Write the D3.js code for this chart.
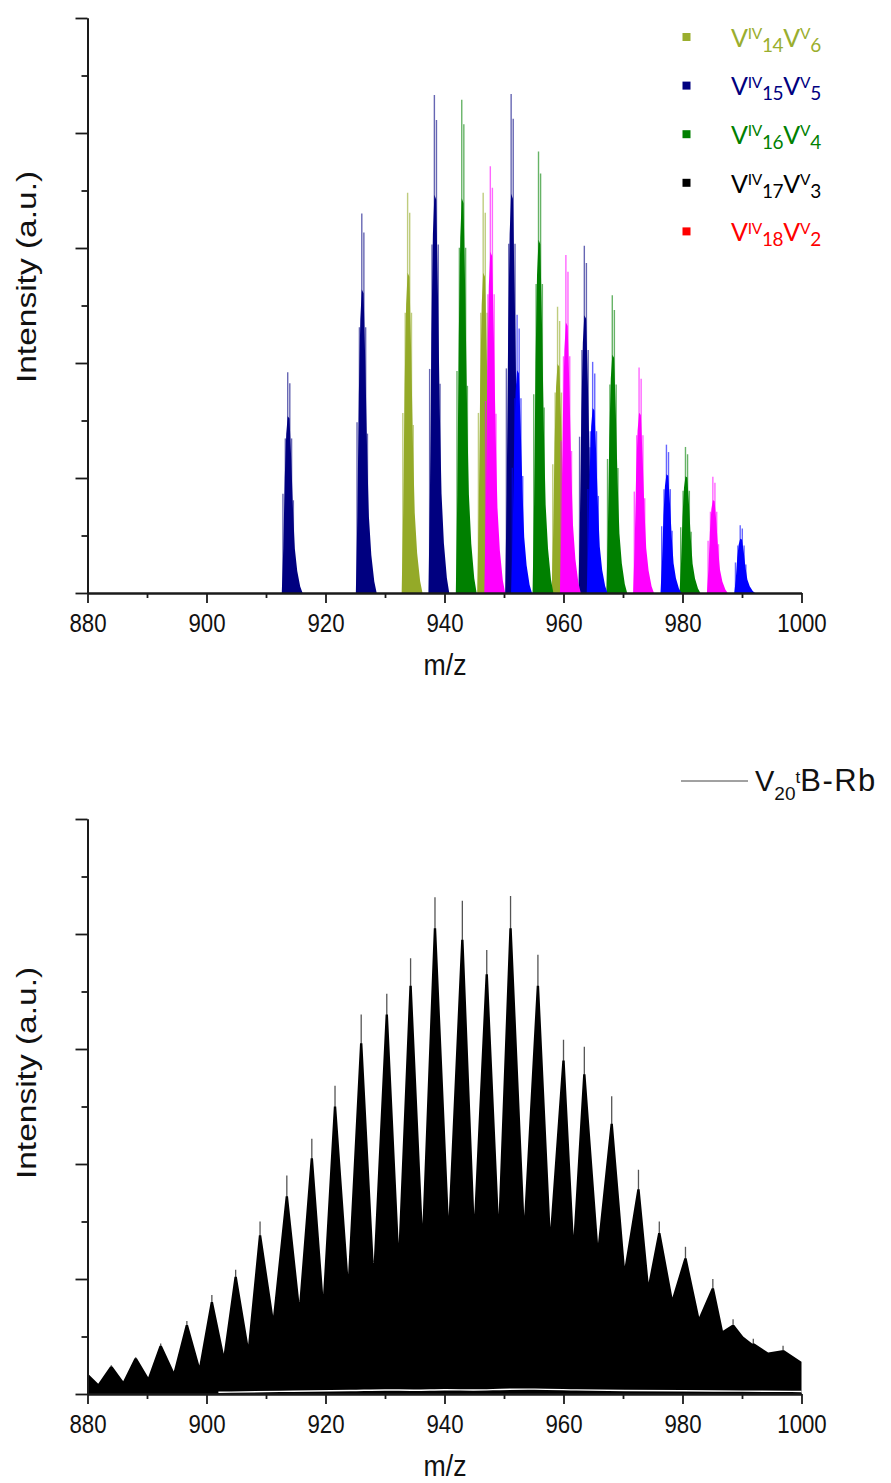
<!DOCTYPE html>
<html>
<head>
<meta charset="utf-8">
<script src="https://cdn.jsdelivr.net/npm/d3@7"></script>
<style>
  body { margin: 0; background: #fff; }
  svg { display: block; }
</style>
</head>
<body>
<svg id="fig" width="891" height="1483"></svg>
<script>
// ---------------- data ----------------
const xTickValues = [880, 900, 920, 940, 960, 980, 1000];
const xMinorValues = [890, 910, 930, 950, 970, 990];
const yTickValues = [0, 1, 2, 3, 4, 5];
const yMinorValues = [0.5, 1.5, 2.5, 3.5, 4.5];

// simulated mixed-valence species (upper panel)
const seriesSubIV = ["14", "15", "16", "17", "18"];
const seriesSubV = ["6", "5", "4", "3", "2"];
const legendColors = ["#9aae2e", "#000080", "#008000", "#000000", "#ff0000"];
const peakColors = ["#94aa28", "#000080", "#008000", "#ff00ff", "#0000ff"];
const clusterCenters = [
  [933.8, 946.5, 959.0],
  [913.65, 926.1, 938.3, 951.2, 963.5],
  [942.9, 955.8, 968.2, 980.5],
  [947.7, 960.4, 972.7, 985.1],
  [952.2, 964.9, 977.3, 989.7]
];
const clusterHeights = [
  [3.48, 3.48, 2.49],
  [1.92, 3.30, 4.33, 4.34, 3.02],
  [4.29, 3.84, 2.59, 1.27],
  [3.71, 2.94, 1.96, 1.01],
  [2.42, 2.01, 1.29, 0.59]
];
// isotope envelope shared by every cluster: m/z offset from the main line, fraction of its height
const envelopeOffsets = [-1.0, -0.75, -0.5, -0.25, 0, 0.3, 0.6, 0.9, 1.2, 1.6, 2.1, 2.5];
const envelopeLevels  = [0, 0.2, 0.52, 0.72, 0.8, 0.79, 0.6, 0.37, 0.2, 0.1, 0.03, 0];
const lineOffsets = [-0.8, -0.4, 0, 0.35, 0.65, 0.95];
const lineLevels  = [0.45, 0.7, 1, 0.95, 0.7, 0.42];

// measured spectrum (lower panel)
const totalPeakMz = [884.0, 888.1, 892.3, 896.7, 900.9, 904.9, 909.0, 913.5, 917.7, 921.6, 926.0, 930.3, 934.3, 938.4,
  943.0, 947.1, 951.1, 955.7, 960.0, 963.5, 968.1, 972.6, 976.1, 980.5, 985.1, 988.5, 991.9, 996.9];
const totalPeakMax = [0.25, 0.32, 0.44, 0.635, 0.86, 1.08, 1.50, 1.90, 2.22, 2.68, 3.30, 3.48, 3.79, 4.32,
  4.29, 3.86, 4.33, 3.82, 3.08, 3.02, 2.59, 1.95, 1.50, 1.28, 1.00, 0.65, 0.48, 0.42];
const totalPeakBody = [0.24, 0.31, 0.42, 0.60, 0.80, 1.02, 1.38, 1.72, 2.05, 2.50, 3.05, 3.30, 3.55, 4.05,
  3.95, 3.65, 4.05, 3.55, 2.90, 2.78, 2.35, 1.78, 1.40, 1.18, 0.92, 0.60, 0.44, 0.38];
const totalValleyMz = [880.0, 881.8, 886.0, 890.2, 894.5, 898.8, 902.9, 907.0, 911.2, 915.6, 919.6, 923.8, 928.1, 932.3,
  936.3, 940.7, 945.0, 949.1, 953.4, 957.8, 961.7, 965.8, 970.3, 974.3, 978.3, 982.8, 986.8, 990.2, 994.4, 1000.0];
const totalValleyVal = [0.18, 0.09, 0.11, 0.145, 0.196, 0.247, 0.35, 0.43, 0.68, 0.80, 0.87, 1.04, 1.14, 1.31,
  1.48, 1.55, 1.56, 1.56, 1.55, 1.45, 1.38, 1.31, 1.11, 0.97, 0.84, 0.67, 0.55, 0.50, 0.36, 0.28];
// faint trough trace close to the baseline
const rippleMz  = [902, 915, 925, 930, 935, 940, 945, 949, 955, 962, 970, 980, 990, 1000];
const rippleVal = [0.015, 0.025, 0.03, 0.038, 0.03, 0.04, 0.032, 0.04, 0.045, 0.035, 0.03, 0.028, 0.025, 0.022];

// ---------------- layout ----------------
const svg = d3.select("#fig");
const X0 = 87.5, X1 = 801.5;
const panels = [
  { top: 18, bottom: 593, titleY: 277 },
  { top: 819, bottom: 1394, titleY: 1073 }
];
const AXIS = "#1a1a1a";
const SANS = "'Liberation Sans', Arial, sans-serif";
const peakTopHalfWidth = 0.2;   // m/z half-width of each apex in the lower trace

function makeScales(p) {
  return {
    x: d3.scaleLinear().domain([880, 1000]).range([X0, X1]),
    y: d3.scaleLinear().domain([0, 5]).range([p.bottom, p.top])
  };
}

function drawAxes(p, sc) {
  const g = svg.append("g");
  // minor ticks
  g.append("g").attr("transform", `translate(0,${p.bottom})`)
    .call(d3.axisBottom(sc.x).tickValues(xMinorValues).tickSize(5).tickSizeOuter(0).tickFormat(""));
  g.append("g").attr("transform", `translate(${X0},0)`)
    .call(d3.axisLeft(sc.y).tickValues(yMinorValues).tickSize(6).tickSizeOuter(0).tickFormat(""));
  // major ticks
  const xa = g.append("g").attr("transform", `translate(0,${p.bottom})`)
    .call(d3.axisBottom(sc.x).tickValues(xTickValues).tickSize(10).tickSizeOuter(0).tickFormat(d3.format("d")));
  g.append("g").attr("transform", `translate(${X0},0)`)
    .call(d3.axisLeft(sc.y).tickValues(yTickValues).tickSize(12).tickSizeOuter(0).tickFormat(""));
  g.selectAll(".domain").attr("stroke", AXIS).attr("stroke-width", 2);
  g.selectAll(".tick line").attr("stroke", AXIS).attr("stroke-width", 1.8);
  xa.selectAll("text")
    .attr("y", 39.5).attr("dy", 0)
    .attr("transform", "scale(0.89,1)")
    .style("font-family", SANS).style("font-size", "25px").attr("fill", "#111");

  // axis titles
  svg.append("text")
    .attr("transform", `translate(445,${p.bottom + 82}) scale(0.89,1)`)
    .attr("text-anchor", "middle")
    .style("font-family", SANS).style("font-size", "30px").attr("fill", "#111")
    .text("m/z");
  svg.append("text")
    .attr("transform", `translate(27,${p.titleY}) scale(0.8,1) rotate(-90)`)
    .attr("text-anchor", "middle").attr("dominant-baseline", "central")
    .style("font-family", SANS).style("font-size", "33.5px").attr("fill", "#111")
    .text("Intensity (a.u.)");
}

// ---------------- upper panel ----------------
(function () {
  const p = panels[0], sc = makeScales(p);
  const plot = svg.append("g");
  const area = d3.area().x(d => sc.x(d[0])).y0(sc.y(0)).y1(d => sc.y(d[1])).curve(d3.curveLinear);

  peakColors.forEach((col, s) => {
    const gs = plot.append("g");
    clusterCenters[s].forEach((c, k) => {
      const h = clusterHeights[s][k];
      // thin isotope lines poking above the envelope
      lineOffsets.forEach((o, j) => {
        gs.append("line")
          .attr("x1", sc.x(c + o)).attr("x2", sc.x(c + o))
          .attr("y1", sc.y(0)).attr("y2", sc.y(h * lineLevels[j]))
          .attr("stroke", col).attr("stroke-width", 1.4).attr("stroke-opacity", 0.6);
      });
      const pts = envelopeOffsets.map((o, j) => [c + o, h * envelopeLevels[j]]);
      gs.append("path").attr("d", area(pts)).attr("fill", col);
    });
  });

  drawAxes(p, sc);

  // legend
  const lg = svg.append("g");
  seriesSubIV.forEach((sub, i) => {
    const yb = 46.7 + i * 48.6;
    lg.append("rect").attr("x", 682.5).attr("y", yb - 13.7).attr("width", 8).attr("height", 8)
      .attr("fill", legendColors[i]);
    const t = lg.append("text").attr("x", 731).attr("y", yb)
      .style("font-family", "Lato, 'Open Sans', sans-serif").attr("fill", legendColors[i])
      .style("letter-spacing", "-0.3px");
    t.append("tspan").style("font-size", "25px").text("V");
    t.append("tspan").style("font-size", "15.5px").attr("dy", -7.6).text("IV");
    t.append("tspan").style("font-size", "19px").attr("dy", 12.6).text(sub);
    t.append("tspan").style("font-size", "25px").attr("dy", -5).text("V");
    t.append("tspan").style("font-size", "15.5px").attr("dy", -7.6).text("V");
    t.append("tspan").style("font-size", "19px").attr("dy", 12.6).text(seriesSubV[i]);
  });
})();

// ---------------- lower panel ----------------
(function () {
  const p = panels[1], sc = makeScales(p);
  const plot = svg.append("g");

  // outline: valleys and flat-topped peak bodies merged in m/z order
  const outline = [];
  totalValleyMz.forEach((m, i) => outline.push([m, totalValleyVal[i]]));
  totalPeakMz.forEach((m, i) => {
    outline.push([m - peakTopHalfWidth, totalPeakBody[i]]);
    outline.push([m + peakTopHalfWidth, totalPeakBody[i]]);
  });
  outline.sort((a, b) => a[0] - b[0]);

  // fine isotope lines above the body
  totalPeakMz.forEach((m, i) => {
    plot.append("line")
      .attr("x1", sc.x(m)).attr("x2", sc.x(m))
      .attr("y1", sc.y(0)).attr("y2", sc.y(totalPeakMax[i]))
      .attr("stroke", "#555").attr("stroke-width", 1.3);
  });

  const area = d3.area().x(d => sc.x(d[0])).y0(sc.y(0)).y1(d => sc.y(d[1])).curve(d3.curveLinear);
  plot.append("path").attr("d", area(outline)).attr("fill", "#000");

  const ripple = d3.line().x(d => sc.x(d)).y((d, i) => sc.y(rippleVal[i])).curve(d3.curveBasis);
  plot.append("path").attr("d", ripple(rippleMz)).attr("fill", "none")
    .attr("stroke", "#fff").attr("stroke-width", 1.4);

  drawAxes(p, sc);

  // legend
  const lg = svg.append("g");
  lg.append("line").attr("x1", 681).attr("x2", 748).attr("y1", 781).attr("y2", 781)
    .attr("stroke", "#444").attr("stroke-width", 1);
  const t = lg.append("text").attr("x", 755).attr("y", 791)
    .style("font-family", SANS).attr("fill", "#111");
  t.append("tspan").style("font-size", "29px").text("V");
  t.append("tspan").style("font-size", "19px").attr("dy", 9.3).text("20");
  t.append("tspan").style("font-size", "17px").attr("dy", -17).text("t");
  t.append("tspan").style("font-size", "31px").style("letter-spacing", "1.5px").attr("dy", 7.7).text("B-Rb");
})();
</script>
</body>
</html>
